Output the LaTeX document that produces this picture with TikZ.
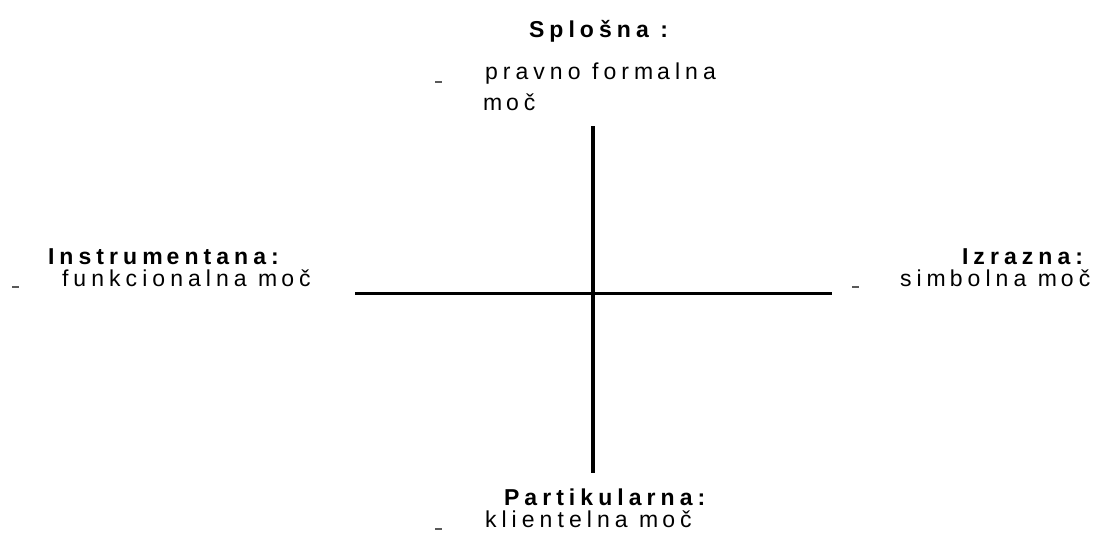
\documentclass[tikz,border=0pt]{standalone}
\usepackage{fontspec}
\setmainfont{Liberation Sans}[LetterSpace=22]
\newcommand{\mgap}{m\kern4pt}
\begin{document}
\begin{tikzpicture}[x=1pt,y=-1pt,
  lbl/.style={anchor=base west, inner sep=0pt, outer sep=0pt, text=black, font=\fontsize{23}{26}\selectfont},
  head/.style={lbl, font=\fontsize{23}{26}\selectfont\bfseries},
  axis/.style={line width=3.4pt, black},
  bullet/.style={line width=1.5pt, black!65}]
\useasboundingbox (0,0) rectangle (1106,536);
% axes
\coordinate (top) at (593,126);
\coordinate (bottom) at (593,473);
\coordinate (left) at (355,293.5);
\coordinate (right) at (832,293.5);
\draw[axis] (top) -- (bottom);
\draw[axis] (left) -- (right);
% top
\node[head] (splosna) at (529,37) {Splošna :};
\node[lbl] (pravno) at (485,79) {pravno for\mgap alna};
\node[lbl] (moc1) at (483,110) {\mgap oč};
\coordinate (d1) at (435,82);
\draw[bullet] (d1) -- ++(7,0);
% left
\node[head] (instr) at (48,264) {Instru\mgap entana:};
\node[lbl] (funk) at (62,286) {funkcionalna \mgap oč};
\coordinate (d2) at (12,287);
\draw[bullet] (d2) -- ++(7,0);
% right
\node[head] (izrazna) at (962,264) {Izrazna:};
\node[lbl] (simb) at (900,286) {si\mgap bolna \mgap oč};
\coordinate (d3) at (852,287);
\draw[bullet] (d3) -- ++(7,0);
% bottom
\node[head] (part) at (504,505) {Partikularna:};
\node[lbl] (klient) at (485,527) {klientelna \mgap oč};
\coordinate (d4) at (435,529);
\draw[bullet] (d4) -- ++(7,0);
\end{tikzpicture}
\end{document}
